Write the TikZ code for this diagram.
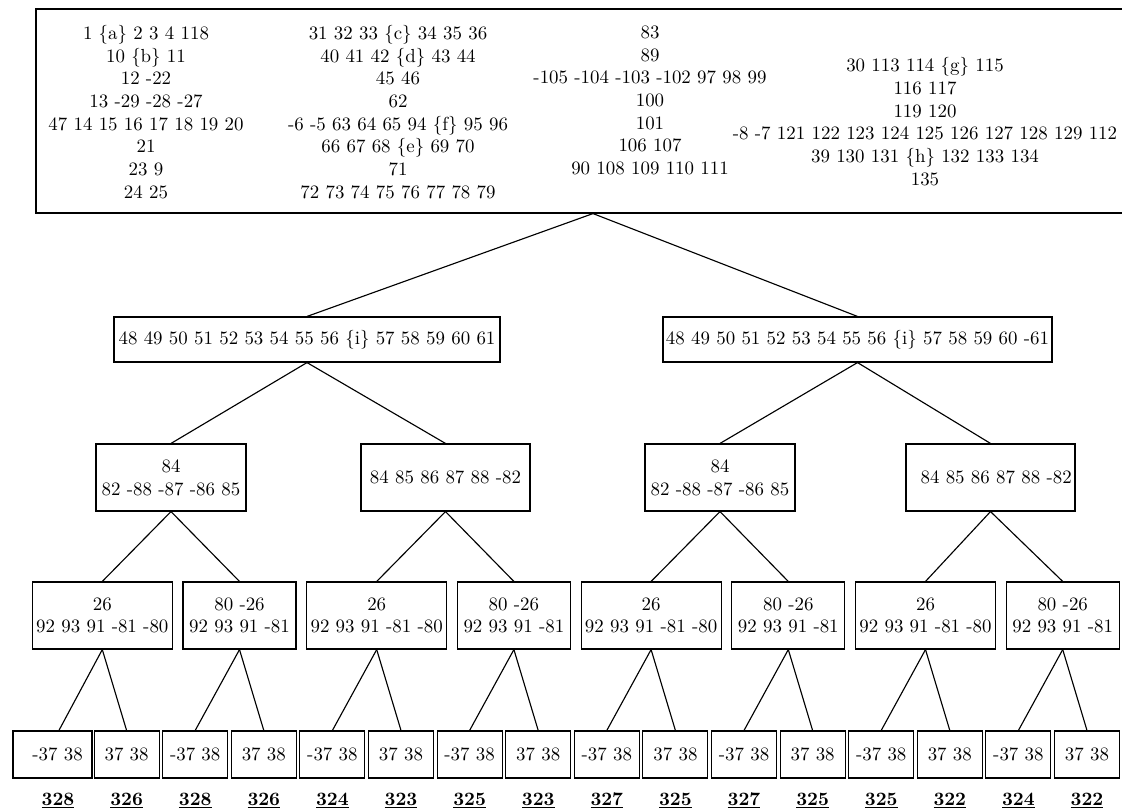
\documentclass[tikz,border=0pt]{standalone}
\begin{document}
\begin{tikzpicture}[x=0.5291pt,y=-0.5291pt,line width=0.6pt,
  bx/.style 2 args={draw,inner sep=0pt,align=center,minimum width={#1*0.5291pt},minimum height={#2*0.5291pt}},
  txt/.style={inner sep=0pt,align=center},
  lab/.style={inner sep=0pt,anchor=base},
  conn/.style={draw,line width=0.6pt}]
\useasboundingbox (0,0) rectangle (1122,810);
% root
\node[bx={1114}{204}] (root) at (593,111) {};
\node[txt] (c1) at (146,112) {1 \{a\} 2 3 4 118\\10 \{b\} 11\\12 -22\\13 -29 -28 -27\\47 14 15 16 17 18 19 20\\21\\23 9\\24 25};
\node[txt] (c2) at (398,112) {31 32 33 \{c\} 34 35 36\\40 41 42 \{d\} 43 44\\45 46\\62\\-6 -5 63 64 65 94 \{f\} 95 96\\66 67 68 \{e\} 69 70\\71\\72 73 74 75 76 77 78 79};
\node[txt] (c3) at (650,100.5) {83\\89\\-105 -104 -103 -102 97 98 99\\100\\101\\106 107\\90 108 109 110 111};
\node[txt] (c4) at (925,121.5) {30 113 114 \{g\} 115\\116 117\\119 120\\-8 -7 121 122 123 124 125 126 127 128 129 112\\39 130 131 \{h\} 132 133 134\\135};
% level 1
\node[bx={386}{45}] (a) at (307,339.5) {48 49 50 51 52 53 54 55 56 \{i\} 57 58 59 60 61};
\node[bx={389}{45}] (b) at (857.5,339.5) {48 49 50 51 52 53 54 55 56 \{i\} 57 58 59 60 -61};
% level 2
\node[bx={150}{67}] (aa) at (171,477.5) {84\\82 -88 -87 -86 85};
\node[bx={169}{67}] (ab) at (445.5,477.5) {84 85 86 87 88 -82};
\node[bx={150}{67}] (ba) at (720,477.5) {84\\82 -88 -87 -86 85};
\node[bx={169}{67}] (bb) at (990.5,477.5) {\hspace*{6pt}84 85 86 87 88 -82};
% level 3
\node[bx={140}{67}] (m0) at (102.3,615.5) {26\\92 93 91 -81 -80};
\node[bx={113}{67}] (m1) at (239.5,615.5) {80 -26\\92 93 91 -81};
\node[bx={140}{67}] (m2) at (376.7,615.5) {26\\92 93 91 -81 -80};
\node[bx={113}{67}] (m3) at (513.9,615.5) {80 -26\\92 93 91 -81};
\node[bx={140}{67}] (m4) at (651.1,615.5) {26\\92 93 91 -81 -80};
\node[bx={113}{67}] (m5) at (788.3,615.5) {80 -26\\92 93 91 -81};
\node[bx={140}{67}] (m6) at (925.5,615.5) {26\\92 93 91 -81 -80};
\node[bx={113}{67}] (m7) at (1062.7,615.5) {80 -26\\92 93 91 -81};
% leaves
\node[bx={79}{47}] (lf0) at (52.5,754.5) {\hspace*{5.3pt}-37 38};
\node[lab] (lab0) at (58,805) {\underline{\textbf{328}}};
\foreach \k/\l in {1/326,2/328,3/326,4/324,5/323,6/325,7/323,8/327,9/325,10/327,11/325,12/325,13/322,14/324,15/322}{
  \pgfmathsetmacro\cx{58+68.6*\k}
  \ifodd\k \def\lt{37 38}\else\def\lt{-37 38}\fi
  \node[bx={65}{47}] (lf\k) at (\cx,754.5) {\lt};
  \node[lab] (lab\k) at (\cx,805) {\underline{\textbf{\l}}};
}
% connectors
\draw[conn] (root.south) -- (a.north);
\draw[conn] (root.south) -- (b.north);
\draw[conn] (a.south) -- (aa.north);
\draw[conn] (a.south) -- (ab.north);
\draw[conn] (b.south) -- (ba.north);
\draw[conn] (b.south) -- (bb.north);
\draw[conn] (aa.south) -- (m0.north);
\draw[conn] (aa.south) -- (m1.north);
\draw[conn] (ab.south) -- (m2.north);
\draw[conn] (ab.south) -- (m3.north);
\draw[conn] (ba.south) -- (m4.north);
\draw[conn] (ba.south) -- (m5.north);
\draw[conn] (bb.south) -- (m6.north);
\draw[conn] (bb.south) -- (m7.north);
\draw[conn] (m0.south) -- ([xshift=3.4pt]lf0.north);
\draw[conn] (m0.south) -- (lf1.north);
\foreach \j in {1,...,7}{
  \pgfmathtruncatemacro\p{2*\j}
  \pgfmathtruncatemacro\q{2*\j+1}
  \draw[conn] (m\j.south) -- (lf\p.north);
  \draw[conn] (m\j.south) -- (lf\q.north);
}
\end{tikzpicture}
\end{document}
